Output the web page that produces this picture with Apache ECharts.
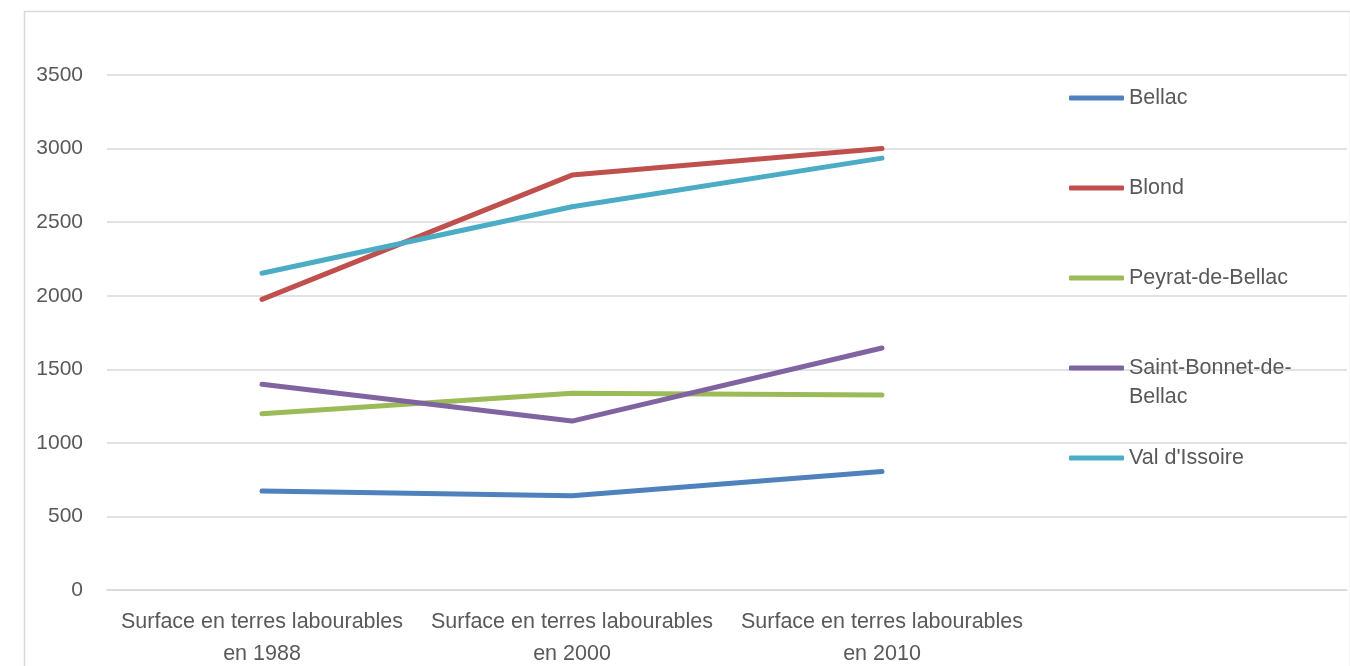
<!DOCTYPE html>
<html>
<head>
<meta charset="utf-8">
<script src="https://cdn.jsdelivr.net/npm/echarts@6/dist/echarts.min.js"></script>
<style>
html,body{margin:0;padding:0;background:#fff;}
#chart{width:1350px;height:666px;}
</style>
</head>
<body>
<div id="chart"></div>
<script>
// Data
var categories = ['Surface en terres labourables\nen 1988', 'Surface en terres labourables\nen 2000', 'Surface en terres labourables\nen 2010', ''];
var seriesNames = ['Bellac', 'Blond', 'Peyrat-de-Bellac', 'Saint-Bonnet-de-Bellac', "Val d'Issoire"];
var bellac = [672, 640, 805];
var blond = [1975, 2820, 3000];
var peyrat = [1198, 1337, 1325];
var saintBonnet = [1398, 1148, 1645];
var valDIssoire = [2153, 2605, 2935];
var yTicks = { min: 0, max: 3500, interval: 500 };

var colors = ['#4f81bd', '#c0504d', '#9bbb59', '#8064a2', '#4bacc6'];
var values = [bellac, blond, peyrat, saintBonnet, valDIssoire];
var FONT = '"Liberation Sans", Arial, sans-serif';
var TXT = '#595959';

var chart = echarts.init(document.getElementById('chart'), null, { renderer: 'canvas' });
chart.setOption({
  animation: false,
  backgroundColor: '#fff',
  color: colors,
  grid: { left: 107, right: 3, top: 75, bottom: 76, containLabel: false, outerBoundsMode: 'none' },
  xAxis: {
    type: 'category',
    data: categories,
    boundaryGap: true,
    axisLine: { show: true, lineStyle: { color: '#d9d9d9', width: 1.5 } },
    axisTick: { show: false },
    axisLabel: { interval: 0, margin: 16, color: TXT, fontFamily: FONT, fontSize: 21.5, lineHeight: 32, align: 'center' }
  },
  yAxis: {
    type: 'value',
    min: yTicks.min, max: yTicks.max, interval: yTicks.interval,
    axisLine: { show: false },
    axisTick: { show: false },
    splitLine: { show: true, lineStyle: { color: '#d9d9d9', width: 1.5 } },
    axisLabel: { margin: 24, color: TXT, fontFamily: FONT, fontSize: 21, formatter: function (v) { return String(v); } }
  },
  legend: {
    orient: 'vertical',
    left: 1069,
    top: 87,
    padding: 0,
    itemWidth: 55,
    itemHeight: 5,
    itemGap: 68,
    icon: 'roundRect',
    data: seriesNames,
    formatter: function (n) { return n === 'Saint-Bonnet-de-Bellac' ? 'Saint-Bonnet-de-' : n; },
    textStyle: { color: TXT, fontFamily: FONT, fontSize: 21.5, lineHeight: 22 }
  },
  graphic: [
    { type: 'rect', left: 22, top: 9, shape: { width: 1326, height: 700 }, style: { fill: 'none', stroke: '#d9d9d9', lineWidth: 1.5 }, silent: true, z: -1 },
    { type: 'text', left: 1129, top: 386, style: { text: 'Bellac', fill: TXT, font: '21.5px ' + FONT } }
  ],
  series: seriesNames.map(function (n, i) {
    return {
      name: n,
      type: 'line',
      data: values[i],
      showSymbol: false,
      symbol: 'none',
      lineStyle: { width: 5, color: colors[i], cap: 'round', join: 'round' },
      itemStyle: { color: colors[i] }
    };
  })
});
</script>
</body>
</html>
